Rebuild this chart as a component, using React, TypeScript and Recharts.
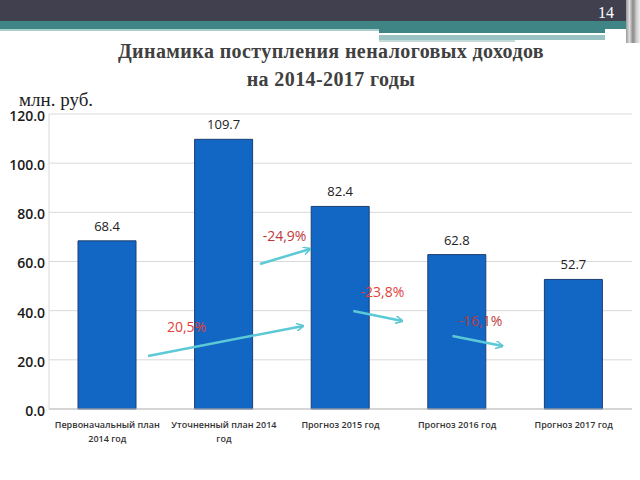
import React from 'react'
import { BarChart, Bar, XAxis, YAxis, CartesianGrid, LabelList } from 'recharts'

const categories = [
  'Первоначальный план|2014 год',
  'Уточненный план 2014|год',
  'Прогноз 2015 год',
  'Прогноз 2016 год',
  'Прогноз 2017 год',
]
const values = [68.4, 109.7, 82.4, 62.8, 52.7]
const yTicks = [0, 20, 40, 60, 80, 100, 120]

// growth annotations: text, arrow start/end in (band units, value)
const growthLabels = ['20,5%', '-24,9%', '-23,8%', '-16,1%']
const growthLabelPos = [[1.18, 33.4], [2.02, 70.4], [2.86, 48.0], [3.7, 36.2]]
const growthArrows = [
  [[0.85, 21.6], [2.18, 33.8]],
  [[1.81, 59.0], [2.24, 65.1]],
  [[2.61, 39.9], [3.03, 35.8]],
  [[3.46, 29.7], [3.89, 25.6]],
]

const data = categories.map((c, i) => ({ name: c, value: values[i] }))

const W = 640
const H = 480
const PLOT = { left: 49, top: 114, right: 632, bottom: 409 }
const YMAX = 120

const px = (u: number) => PLOT.left + (u * (PLOT.right - PLOT.left)) / categories.length
const py = (v: number) => PLOT.bottom - (v / YMAX) * (PLOT.bottom - PLOT.top)

function XTick({ x, y, payload }: any) {
  const lines = String(payload.value).split('|')
  return (
    <text x={x} y={y} textAnchor="middle" fontSize={9} fontWeight={600} fill="#333" fontFamily="'Open Sans', sans-serif">
      {lines.map((l, i) => (
        <tspan key={i} x={x} dy={i === 0 ? 11 : 14}>{l}</tspan>
      ))}
    </text>
  )
}

export default function App() {
  return (
    <div style={{ position: 'fixed', left: 0, top: 0, width: W, height: H, background: '#fff', overflow: 'hidden' }}>
      {/* slide header */}
      <div style={{ position: 'absolute', left: 0, top: 0, width: W, height: 21, background: '#40404f' }} />
      <div style={{ position: 'absolute', left: 0, top: 21, width: W, height: 8, background: '#3f8585' }} />
      <div style={{ position: 'absolute', left: 0, top: 29, width: 380, height: 2, background: '#a9cccc' }} />
      <div style={{ position: 'absolute', left: 379, top: 29, width: 226, height: 4, background: '#3f8585' }} />
      <div style={{ position: 'absolute', left: 379, top: 33, width: 214, height: 2, background: '#ffffff' }} />
      <div style={{ position: 'absolute', left: 379, top: 35, width: 226, height: 5, background: '#9cc3c3' }} />
      <div style={{ position: 'absolute', left: 379, top: 40, width: 136, height: 2, background: '#c2dada' }} />
      <div style={{ position: 'absolute', left: 626, top: 0, width: 14, height: 43, background: 'linear-gradient(90deg,#999 0,#ddd 25%,#888 50%,#ccc 75%,#eee 100%)' }} />
      <div style={{ position: 'absolute', left: 598, top: 4, color: '#fff', fontFamily: "'Liberation Serif', serif", fontSize: 16 }}>14</div>
      <div style={{ position: 'absolute', left: 0, top: 37, width: 662, textAlign: 'center', fontFamily: "'Liberation Serif', serif", fontWeight: 'bold', fontSize: 20, letterSpacing: 0.4, color: '#404040', lineHeight: '28px' }}>
        Динамика поступления неналоговых доходов
        <br />
        на 2014-2017 годы
      </div>
      <div style={{ position: 'absolute', left: 19, top: 90, fontFamily: "'Liberation Serif', serif", fontSize: 19, lineHeight: '20px', color: '#222' }}>млн. руб.</div>

      <div style={{ position: 'absolute', left: 0, top: 0 }}>
        <BarChart width={W} height={H} data={data} margin={{ top: PLOT.top, right: W - PLOT.right, left: 0, bottom: 0 }}>
          <CartesianGrid vertical={false} stroke="#d9d9d9" />
          <XAxis dataKey="name" height={H - PLOT.bottom} tick={<XTick />} tickLine={false} stroke="#bfbfbf" interval={0} />
          <YAxis
            width={PLOT.left}
            domain={[0, YMAX]}
            ticks={yTicks}
            tickFormatter={(v: number) => v.toFixed(1)}
            tick={{ fontSize: 14, fontWeight: 600, fill: '#1a1a1a', fontFamily: "'Open Sans', sans-serif", dy: 2 }}
            tickLine={false}
            tickSize={4}
            tickMargin={0}
            stroke="#d9d9d9"
          />
          <Bar dataKey="value" fill="#1266c4" stroke="#1c3f73" strokeWidth={1} barSize={58} isAnimationActive={false}>
            <LabelList dataKey="value" position="top" offset={10} formatter={(v: any) => Number(v).toFixed(1)} style={{ fontSize: 13, fill: '#222', fontFamily: "'Open Sans', sans-serif" }} />
          </Bar>
        </BarChart>
      </div>

      {/* growth arrows */}
      <svg width={W} height={H} style={{ position: 'absolute', left: 0, top: 0, pointerEvents: 'none' }}>
        <defs>
          <marker id="arr" markerWidth="8" markerHeight="8" refX="7" refY="4" orient="auto" markerUnits="userSpaceOnUse">
            <path d="M0,0 L8,4 L0,8" fill="none" stroke="#5cc6cf" strokeWidth={1.5} />
          </marker>
        </defs>
        {growthArrows.map(([s, e], i) => (
          <line key={i} x1={px(s[0])} y1={py(s[1])} x2={px(e[0])} y2={py(e[1])} stroke="#5cc9d6" strokeWidth={2.5} markerEnd="url(#arr)" />
        ))}
        {growthLabels.map((t, i) => (
          <text key={t} x={px(growthLabelPos[i][0])} y={py(growthLabelPos[i][1])} textAnchor="middle" dominantBaseline="central" fontSize={14} fontFamily="'Open Sans', sans-serif" fill={i === 1 || i === 3 ? '#c0393a' : '#e0423a'}>
            {t}
          </text>
        ))}
      </svg>
    </div>
  )
}
